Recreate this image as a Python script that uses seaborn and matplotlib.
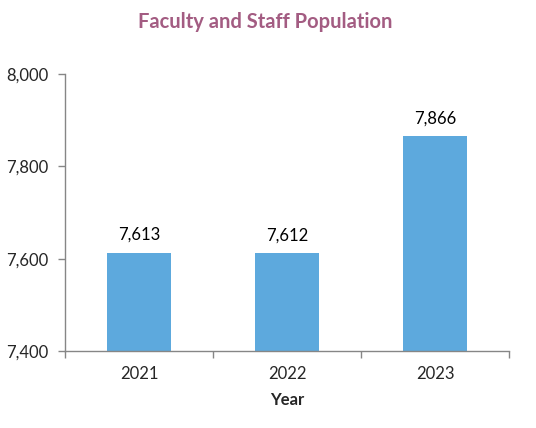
import matplotlib
matplotlib.use("Agg")
import matplotlib.pyplot as plt
import seaborn as sns
import pandas as pd
from matplotlib.ticker import FuncFormatter, FixedLocator

years = ["2021", "2022", "2023"]
population = [7613, 7612, 7866]
y_ticks = [7400, 7600, 7800, 8000]

sns.set_style("white")
plt.rcParams['font.family'] = ['Lato', 'DejaVu Sans']

df = pd.DataFrame({"Year": years, "Population": population})

fig = plt.figure(figsize=(5.36, 4.28), dpi=100)
ax = fig.add_axes([65/536, 1-351/428, (509-65)/536, (351-74)/428])

sns.barplot(data=df, x="Year", y="Population", color="#5DA9DD", saturation=1,
            width=0.43, ax=ax, edgecolor="none")

ax.set_ylim(7400, 8000)
ax.set_xlim(-0.5, 2.5)
ax.set_yticks(y_ticks)
ax.yaxis.set_major_formatter(FuncFormatter(lambda v, p: f"{int(v):,}"))

for i, v in enumerate(population):
    ax.annotate(f"{v:,}", (i, v), xytext=(0, 7), textcoords="offset points",
                ha="center", va="bottom", fontsize=12, color="#000000")

gray = "#868686"
for s in ["top", "right"]:
    ax.spines[s].set_visible(False)
for s in ["left", "bottom"]:
    ax.spines[s].set_color(gray)
    ax.spines[s].set_linewidth(1)

ax.tick_params(axis="y", which="major", direction="out", length=5, color=gray,
               width=1, labelsize=12, pad=7, left=True)
ax.tick_params(axis="x", which="major", length=0, labelsize=12, pad=11)
ax.xaxis.set_minor_locator(FixedLocator([-0.5, 0.5, 1.5, 2.5]))
ax.tick_params(axis="x", which="minor", direction="out", length=5, color=gray,
               width=1, bottom=True)

ax.set_xlabel("Year", fontsize=12, fontweight="bold", labelpad=7)
ax.set_ylabel("")

fig.text(265/536, 1-22/428, "Faculty and Staff Population", ha="center", va="center",
         fontsize=14.5, fontweight="bold", color="#A35C82")

fig.savefig("out.png", dpi=100)
